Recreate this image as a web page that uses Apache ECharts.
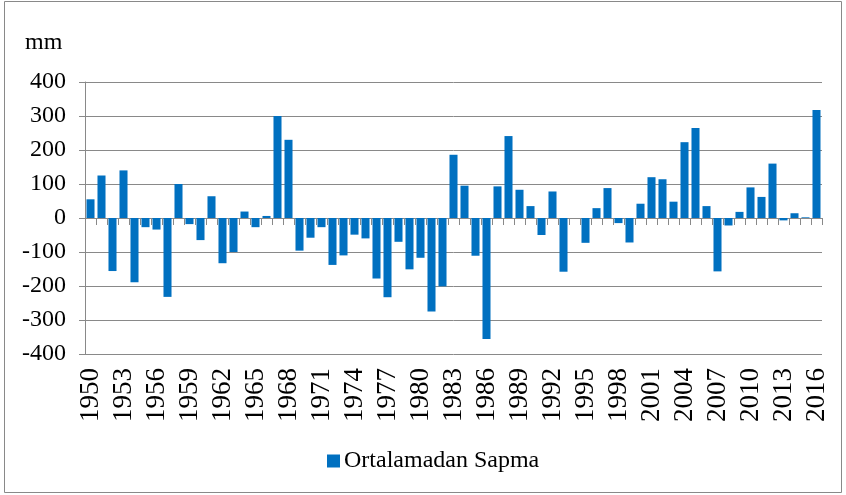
<!DOCTYPE html>
<html>
<head>
<meta charset="utf-8">
<script src="https://cdn.jsdelivr.net/npm/echarts@6/dist/echarts.min.js"></script>
<style>
  html, body { margin: 0; padding: 0; background: #fff; }
  #chart { width: 846px; height: 495px; }
</style>
</head>
<body>
<div id="chart"></div>
<script>
// yillar 1950 - 2016
var years = []
for (var y = 1950; y <= 2016; y++) years.push(String(y))

// ortalamadan sapma (mm)
var deviation = [
  55, 125, -156, 140, -189, -27, -34, -232, 100, -18,
  -65, 64, -133, -100, 19, -27, 6, 300, 230, -96,
  -58, -27, -138, -110, -49, -60, -178, -233, -70, -151,
  -117, -275, -201, 186, 95, -111, -356, 93, 241, 83,
  35, -50, 78, -158, 0, -73, 29, 88, -15, -72,
  42, 120, 114, 48, 223, 265, 35, -157, -22, 18,
  90, 62, 160, -7, 14, 2, 318
]

var yTicks = { min: -400, max: 400, step: 100 }
var seriesName = 'Ortalamadan Sapma'
var unitLabel = 'mm'

var serif = 'Liberation Serif'
var gray = '#898989'

var chart = echarts.init(document.getElementById('chart'))
chart.setOption({
  animation: false,
  graphic: [
    {
      type: 'rect',
      shape: { x: 4.5, y: 1.5, width: 837, height: 491 },
      style: { fill: 'none', stroke: gray, lineWidth: 1 }
    },
    {
      type: 'text',
      left: 25,
      top: 31,
      style: { text: unitLabel, fontFamily: serif, fontSize: 24, fill: '#000' }
    }
  ],
  legend: {
    left: 322,
    top: 444,
    itemWidth: 13,
    itemHeight: 13,
    itemGap: 5,
    icon: 'rect',
    textStyle: { fontFamily: serif, fontSize: 24, color: '#000', padding: [0, 0, 0, -1] },
    data: [seriesName]
  },
  grid: { left: 85, right: 24, top: 82, bottom: 141 },
  xAxis: [
    {
      type: 'category',
      data: years,
      position: 'bottom',
      axisLine: { show: false, onZero: false },
      axisTick: { show: false },
      axisLabel: {
        interval: 2,
        rotate: 90,
        margin: 14,
        fontFamily: serif,
        fontSize: 27,
        color: '#000'
      }
    },
    {
      type: 'category',
      data: years,
      position: 'top',
      axisLine: { show: true, onZero: true, lineStyle: { color: gray, width: 1 } },
      axisTick: { show: true, inside: true, length: 7, interval: 0, lineStyle: { color: gray } },
      axisLabel: { show: false }
    }
  ],
  yAxis: {
    type: 'value',
    min: yTicks.min,
    max: yTicks.max,
    interval: yTicks.step,
    axisLine: { show: true, lineStyle: { color: gray, width: 1 } },
    axisTick: { show: true, length: 6, lineStyle: { color: gray } },
    splitLine: { lineStyle: { color: gray, width: 1 } },
    axisLabel: { margin: 19, fontFamily: serif, fontSize: 24, color: '#000' }
  },
  series: [
    {
      name: seriesName,
      type: 'bar',
      xAxisIndex: 0,
      data: deviation,
      barCategoryGap: '27%',
      itemStyle: { color: '#0070C0' }
    }
  ]
})
</script>
</body>
</html>
